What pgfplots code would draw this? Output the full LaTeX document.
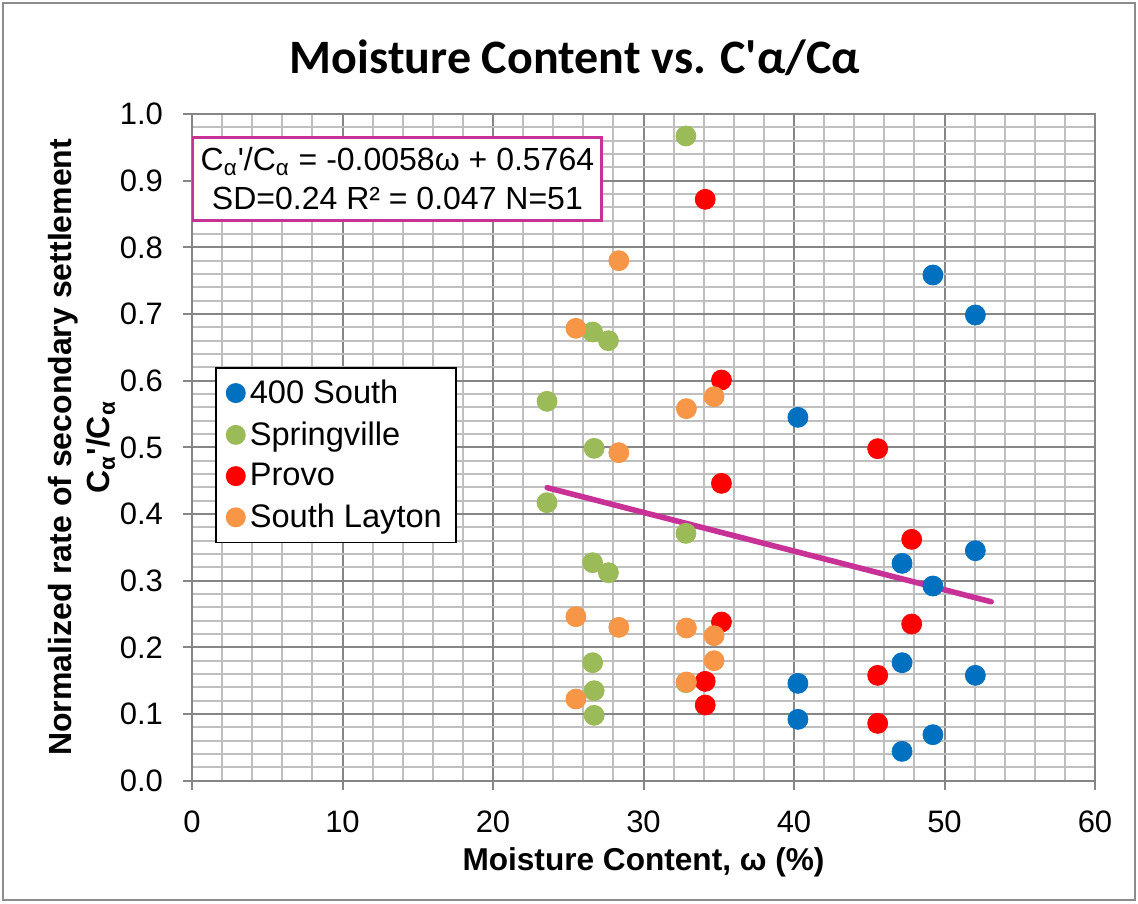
\documentclass[border=0pt]{standalone}
\usepackage{fontspec}
\setmainfont{Liberation Sans}[Ligatures=TeXOff]
\newfontfamily\titlefont{Carlito}[Ligatures=TeXOff]
\usepackage{pgfplots}
\pgfplotsset{compat=1.18}
\definecolor{cblue}{RGB}{0,112,192}
\definecolor{cgreen}{RGB}{155,187,89}
\definecolor{cred}{RGB}{255,0,0}
\definecolor{corange}{RGB}{247,150,70}
\definecolor{cmag}{RGB}{200,50,150}
\definecolor{majgray}{RGB}{134,134,134}
\definecolor{mingray}{RGB}{191,191,191}
\definecolor{framegray}{RGB}{140,140,140}
\begin{document}
\begin{tikzpicture}[x=1pt,y=1pt]
\useasboundingbox (0,0) rectangle (569,451.5);
\draw[color=framegray, line width=0.75pt] (1.5,1.5) rectangle (567.5,450);
\begin{axis}[
  at={(96pt,61.15pt)}, anchor=south west,
  width=451.5pt, height=333.35pt, scale only axis,
  xmin=0, xmax=60, ymin=0, ymax=1,
  xtick={0,10,20,30,40,50,60},
  ytick={0,0.1,0.2,0.3,0.4,0.5,0.6,0.7,0.8,0.9,1.0},
  minor x tick num=4, minor y tick num=4,
  grid=both,
  major grid style={color=majgray, line width=1pt},
  minor grid style={color=mingray, line width=1pt},
  axis line style={color=majgray, line width=1pt},
  tick align=outside, major tick length=4.5pt, minor tick length=0pt,
  xtick pos=bottom, ytick pos=left,
  tick style={color=majgray, line width=1pt},
  /pgf/number format/assume math mode=true,
  ticklabel style={font=\fontsize{15.5}{18}\selectfont},
  yticklabel style={xshift=-6.5pt, /pgf/number format/.cd, fixed, fixed zerofill, precision=1},
  xticklabel style={yshift=-7pt, /pgf/number format/.cd, fixed, precision=0},
  title={Moisture Content vs. C'α/Cα},
  title style={at={(axis description cs:0.424,1.066)}, anchor=center, font=\titlefont\bfseries\fontsize{24}{28}\selectfont},
  xlabel={Moisture Content, ω (\%)},
  xlabel style={at={(axis description cs:0.5,-0.122)}, anchor=center, font=\bfseries\fontsize{15.8}{18}\selectfont},
  ylabel={Normalized rate of secondary settlement\\C\textsubscript{α}'/C\textsubscript{α}},
  ylabel style={at={(axis description cs:-0.122,0.5)}, anchor=center, rotate=0, align=center, font=\bfseries\fontsize{16}{19}\selectfont},
  legend style={at={(axis description cs:0.0255,0.6205)}, anchor=north west, draw=black, line width=0.75pt,
    font=\fontsize{16.3}{19}\selectfont, row sep=3.6pt, inner xsep=5pt, inner ysep=4pt,
    cells={anchor=west}},
  legend image code/.code={\fill[#1, draw=none] (5.5pt,0pt) circle (5pt);},
  every axis plot/.append style={only marks, mark=*, mark size=5pt, mark options={draw=none}},
]
\addplot[color=cblue] coordinates {
 (40.26,0.146) (40.26,0.092) (47.18,0.326) (49.23,0.292) (52.05,0.345)
 (47.18,0.177) (52.05,0.158) (49.23,0.069) (47.18,0.044)
 (49.23,0.7585) (52.05,0.6985) (40.26,0.545)};
\addlegendentry{400 South}
\addplot[color=cgreen] coordinates {
 (32.82,0.967) (26.62,0.673) (27.67,0.660) (23.59,0.569) (26.72,0.4985)
 (23.59,0.417) (32.82,0.371) (26.62,0.327) (27.67,0.312) (26.62,0.177)
 (26.72,0.135) (26.72,0.098) (32.82,0.147)};
\addlegendentry{Springville}
\addplot[color=cred] coordinates {
 (34.10,0.872) (35.18,0.601) (45.56,0.498) (35.18,0.446) (47.82,0.362)
 (35.18,0.238) (47.82,0.235) (45.56,0.158) (34.10,0.149) (34.10,0.1135)
 (45.56,0.086)};
\addlegendentry{Provo}
\addplot[color=corange] coordinates {
 (28.36,0.780) (25.51,0.6785) (32.85,0.558) (34.69,0.576) (28.36,0.492)
 (25.51,0.246) (28.36,0.230) (32.85,0.229) (34.69,0.2175) (34.69,0.180)
 (32.85,0.148) (25.51,0.1225)};
\addlegendentry{South Layton}
\addplot[forget plot, no marks, sharp plot, color=cmag, line width=2.8pt, line cap=round] coordinates {(23.6,0.4395) (53.1,0.2684)};
\node[draw=cmag, line width=1.5pt, fill=white, align=center, inner sep=3pt,
      minimum width=204.5pt, minimum height=41.5pt,
      font=\fontsize{16}{19.5}\selectfont] at (axis cs:13.65,0.903)
  {C\textsubscript{α}'/C\textsubscript{α} = -0.0058ω + 0.5764\\SD=0.24 R² = 0.047 N=51};
\end{axis}
\end{tikzpicture}
\end{document}
